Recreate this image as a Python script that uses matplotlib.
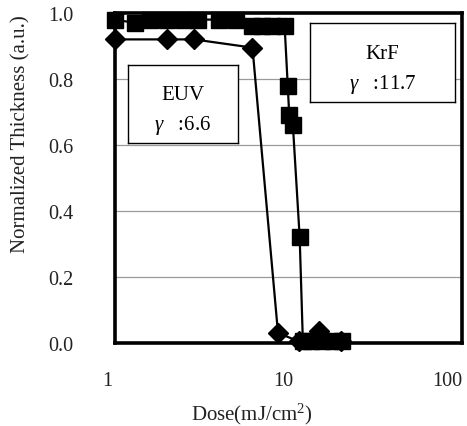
#DOSE CURVES: EUV vs KrF

import numpy as np
import matplotlib
matplotlib.use("Agg")
import matplotlib.pyplot as plt
import matplotlib.transforms as mtransforms

plt.rcParams['font.family'] = ['Liberation Serif', 'DejaVu Serif']
plt.rcParams['mathtext.fontset'] = 'custom'
plt.rcParams['mathtext.rm'] = 'Liberation Serif'
plt.rcParams['mathtext.it'] = 'Liberation Serif:italic'

#DATA

euv_dose = [1.0, 2.0, 2.85, 6.2, 8.7, 11.5, 15.0, 20.0]
euv_thick = [0.92, 0.92, 0.92, 0.895, 0.03, 0.005, 0.035, 0.005]

krf_dose = [1.0, 1.3, 1.6, 2.0, 2.5, 3.0, 4.0, 5.0, 6.2, 7.0, 8.0, 9.5,
            9.9, 10.1, 10.6, 11.6, 12.1, 13.5, 15.5, 18.0, 20.3]
krf_thick = [0.98, 0.97, 0.98, 0.98, 0.98, 0.98, 0.98, 0.98, 0.96, 0.96, 0.96, 0.96,
             0.78, 0.69, 0.66, 0.32, 0.005, 0.005, 0.005, 0.005, 0.005]

yticks = [0.0, 0.2, 0.4, 0.6, 0.8, 1.0]
xticks = [1, 10, 100]

#PLOT

fig = plt.figure(figsize=(4.67, 4.27), dpi=100)
ax = fig.add_axes([115/467, 83/427, 347/467, 330/427])

ax.set_xscale("log")
ax.set_xlim(1, 100)
ax.set_ylim(0, 1.0)

for y in yticks[1:-1]:
    ax.axhline(y, color="#9a9a9a", lw=0.9, zorder=0)

ax.plot(euv_dose, euv_thick, color="black", lw=1.6, marker="D", ms=10,
        clip_on=False, zorder=3)
ax.plot(krf_dose, krf_thick, color="black", lw=1.6, marker="s", ms=11.5,
        clip_on=False, zorder=4)

for s in ax.spines.values():
    s.set_linewidth(2.6)
    s.set_zorder(2)

ax.set_xticks(xticks)
ax.set_xticklabels([str(t) for t in xticks])
ax.minorticks_off()
ax.set_yticks(yticks)
ax.set_yticklabels(["%.1f" % t for t in yticks])
ax.tick_params(length=0, labelsize=14.5, colors="#222222")
ax.tick_params(axis="x", pad=20)
ax.tick_params(axis="y", pad=30)
for lab, dx in zip(ax.get_xticklabels(), [-8, -5, -15]):
    off = mtransforms.ScaledTranslation(dx/100, 0, fig.dpi_scale_trans)
    lab.set_transform(lab.get_transform() + off)

fig.text(252/467, 1 - 414/427, "Dose(mJ/cm$^2$)", fontsize=15,
         ha="center", va="center", color="#222222")
fig.text(21/467, 1 - 134/427, "Normalized Thickness (a.u.)", fontsize=15,
         rotation=90, ha="center", va="center", color="#222222")

#TEXT BOXES

def box(x0, y0, x1, y1, name, gamma):
    bx = fig.add_axes([x0/467, 1 - y1/427, (x1 - x0)/467, (y1 - y0)/427])
    bx.set_xticks([])
    bx.set_yticks([])
    bx.set_zorder(5)
    for s in bx.spines.values():
        s.set_linewidth(1.0)
    bx.text(0.5, 0.62, name, ha="center", va="center", fontsize=15)
    bx.text(0.5, 0.24, r"$\gamma$   :" + gamma, ha="center", va="center", fontsize=15)

box(128, 66, 238, 144, "EUV", "6.6")
box(310, 24, 455, 103, "KrF", "11.7")

plt.savefig("out.png", dpi=100)
